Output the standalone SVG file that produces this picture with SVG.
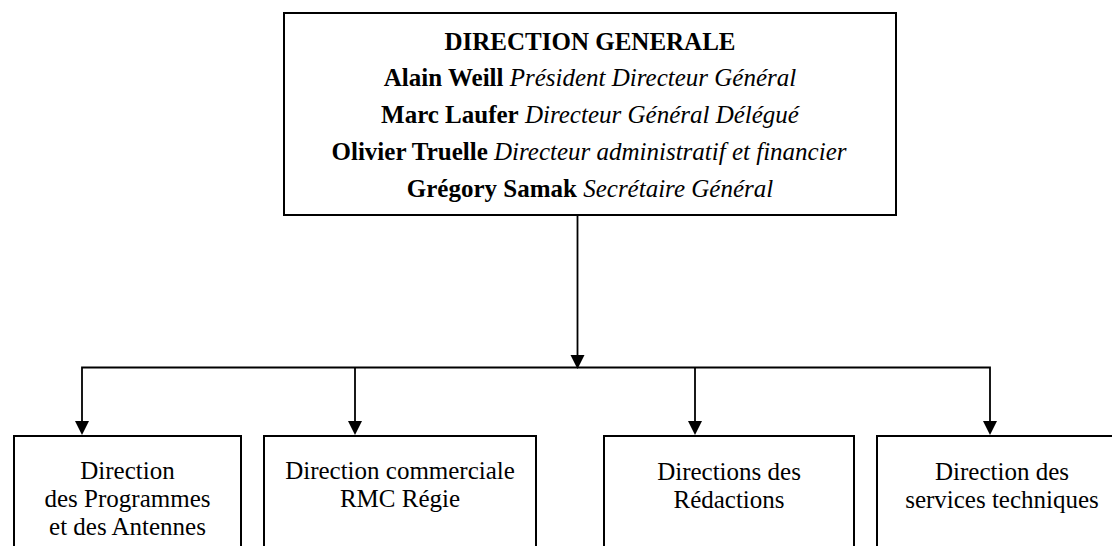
<svg xmlns="http://www.w3.org/2000/svg" width="1112" height="546" viewBox="0 0 1112 546">
<style>
.box{fill:#fff;stroke:#000;stroke-width:2}
.ln{fill:none;stroke:#000;stroke-width:1.8}
.t{font-family:'Liberation Serif','Times New Roman',Times,serif;font-size:25px;fill:#000;text-anchor:middle}
.b{font-weight:bold}
.i{font-style:italic}
</style>
<rect width="1112" height="546" fill="#fff"/>
<g id="connectors">
<path class="ln" d="M577.5,215 V360"/>
<path d="M570.5,355 L584.5,355 L577.5,369 Z" fill="#000"/>
<path class="ln" d="M82,430 V367.5 H990 V430"/>
<path class="ln" d="M355,367.5 V430"/>
<path class="ln" d="M695,367.5 V430"/>
<path d="M75,421 L89,421 L82,435 Z" fill="#000"/>
<path d="M348,421 L362,421 L355,435 Z" fill="#000"/>
<path d="M688,421 L702,421 L695,435 Z" fill="#000"/>
<path d="M983,421 L997,421 L990,435 Z" fill="#000"/>
</g>
<g id="direction-generale">
<rect class="box" x="284" y="13" width="612" height="202"/>
<text class="t b" x="590" y="50">DIRECTION GENERALE</text>
<text class="t" x="590" y="86"><tspan class="b">Alain Weill</tspan> <tspan class="i">Président Directeur Général</tspan></text>
<text class="t" x="590" y="123"><tspan class="b">Marc Laufer</tspan> <tspan class="i">Directeur Général Délégué</tspan></text>
<text class="t" x="589" y="160"><tspan class="b">Olivier Truelle</tspan> <tspan class="i">Directeur administratif et financier</tspan></text>
<text class="t" x="590" y="197"><tspan class="b">Grégory Samak</tspan> <tspan class="i">Secrétaire Général</tspan></text>
</g>
<g id="programmes">
<rect class="box" x="14" y="436" width="227" height="120"/>
<text class="t" x="127.5" y="479">Direction</text>
<text class="t" x="127.5" y="507">des Programmes</text>
<text class="t" x="127.5" y="535">et des Antennes</text>
</g>
<g id="commerciale">
<rect class="box" x="264" y="436" width="272" height="120"/>
<text class="t" x="400" y="479">Direction commerciale</text>
<text class="t" x="400" y="507">RMC Régie</text>
</g>
<g id="redactions">
<rect class="box" x="604" y="436" width="250" height="120"/>
<text class="t" x="729" y="480">Directions des</text>
<text class="t" x="729" y="508">Rédactions</text>
</g>
<g id="techniques">
<rect class="box" x="877" y="436" width="250" height="120"/>
<text class="t" x="1002" y="480">Direction des</text>
<text class="t" x="1002" y="508">services techniques</text>
</g>
</svg>
